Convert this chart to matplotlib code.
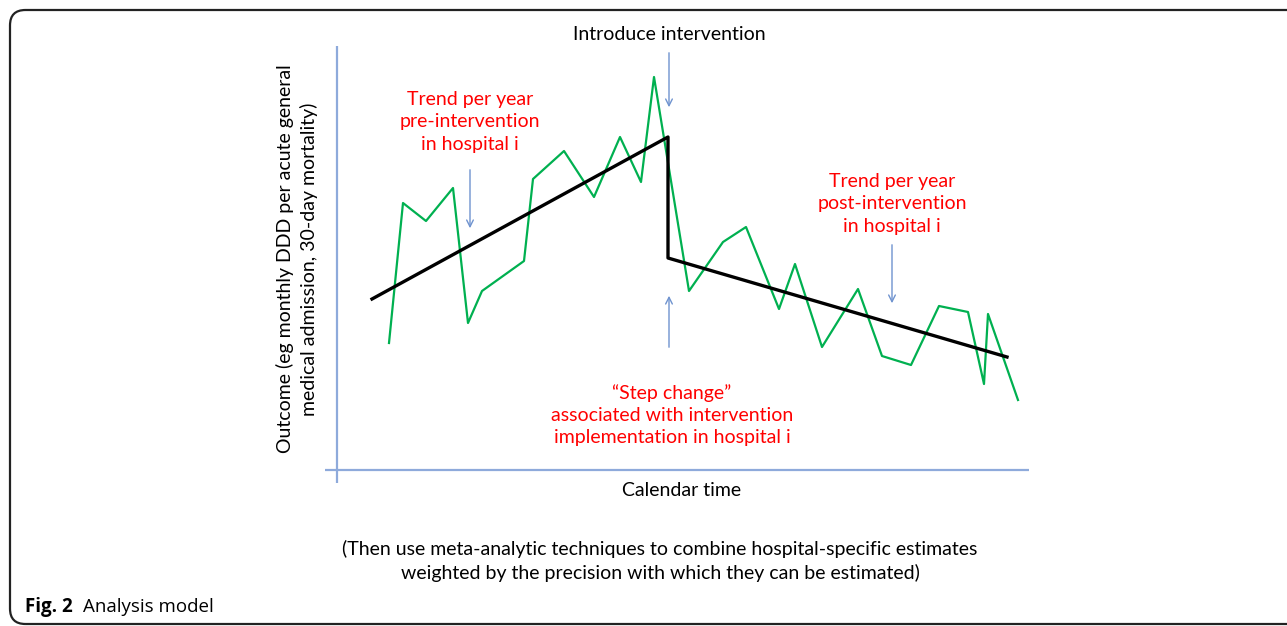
import matplotlib.pyplot as plt
from matplotlib.patches import FancyBboxPatch

# calendar time (months) and monthly outcome
time = [5.2, 6.6, 8.9, 11.6, 13.1, 14.5, 18.7, 19.6, 22.7, 25.7, 28.3, 30.4, 31.7,
        35.2, 38.6, 40.9, 44.2, 45.8, 48.5, 52.1, 54.5, 57.4, 60.2, 63.1, 64.7, 65.1, 68.1]
outcome = [12.7, 26.7, 24.9, 28.2, 14.7, 17.9, 20.9, 29.1, 31.9, 27.3, 33.3, 28.8, 39.3,
           17.9, 22.8, 24.3, 16.1, 20.6, 12.3, 18.1, 11.4, 10.5, 16.4, 15.8, 8.6, 15.6, 7.0]

# fitted segmented regression (pre, step, post)
trend_x = [3.5, 33.1, 33.1, 67.0]
trend_y = [17.1, 33.3, 21.2, 11.3]

W, H = 1287, 626
fig = plt.figure(figsize=(W / 100, H / 100), dpi=100)
plt.rcParams['font.family'] = ['Lato', 'DejaVu Sans']

def fx(px):
    return px / W

def fy(py):
    return 1 - py / H

# outer rounded frame (runs off the right edge)
frame = FancyBboxPatch((fx(10), fy(624)), fx(1340) - fx(10), fy(10) - fy(624),
                       boxstyle="round,pad=0,rounding_size=0.012",
                       transform=fig.transFigure, fill=False, ec='#222222', lw=1.6,
                       mutation_aspect=W / H)
fig.patches.append(frame)

ax = fig.add_axes([fx(325), fy(483), fx(1029) - fx(325), fy(46) - fy(483)])
ax.set_xlim(-1.2, 69.2)
ax.set_ylim(-1.3, 42.4)
ax.axis('off')

axis_blue = '#8eaadb'
arrow_blue = '#6f93cf'
ax.axvline(0, color=axis_blue, lw=1.6)
ax.axhline(0, color=axis_blue, lw=1.6)

ax.plot(time, outcome, color='#00b050', lw=1.6, zorder=3)
ax.plot(trend_x, trend_y, color='black', lw=2.4, zorder=4)

arrow = dict(arrowstyle='->', color=arrow_blue, lw=1.0, mutation_scale=12)
ax.annotate('', xy=(33.2, 36.0), xytext=(33.2, 42.0), arrowprops=arrow)
ax.annotate('', xy=(13.3, 23.9), xytext=(13.3, 30.3), arrowprops=arrow)
ax.annotate('', xy=(33.2, 17.7), xytext=(33.2, 12.0), arrowprops=arrow)
ax.annotate('', xy=(55.5, 16.4), xytext=(55.5, 22.8), arrowprops=arrow)

red = '#ff0000'
fs = 14
ax.text(33.2, 43.5, 'Introduce intervention', ha='center', va='center', fontsize=fs)
ax.text(13.3, 34.8, 'Trend per year\npre-intervention\nin hospital i',
        ha='center', va='center', color=red, fontsize=fs, linespacing=1.38)
ax.text(55.5, 26.6, 'Trend per year\npost-intervention\nin hospital i',
        ha='center', va='center', color=red, fontsize=fs, linespacing=1.38)
ax.text(33.5, 5.5, '\u201cStep change\u201d\nassociated with intervention\nimplementation in hospital i',
        ha='center', va='center', color=red, fontsize=fs, linespacing=1.38)

fig.text(fx(297), fy(259), 'Outcome (eg monthly DDD per acute general\nmedical admission, 30-day mortality)',
         rotation=90, ha='center', va='center', fontsize=fs, linespacing=1.35)
fig.text(fx(682), fy(491), 'Calendar time', ha='center', va='center', fontsize=fs)
fig.text(fx(660), fy(561), '(Then use meta-analytic techniques to combine hospital-specific estimates\n'
         'weighted by the precision with which they can be estimated)',
         ha='center', va='center', fontsize=fs, linespacing=1.38)

fig.text(fx(25), fy(607), 'Fig. 2', fontweight='bold', ha='left', va='center', fontsize=13.5,
         family=['Open Sans', 'DejaVu Sans'])
fig.text(fx(83), fy(607), 'Analysis model', ha='left', va='center', fontsize=13.5,
         family=['Open Sans', 'DejaVu Sans'])

fig.savefig('out.png', dpi=100)
